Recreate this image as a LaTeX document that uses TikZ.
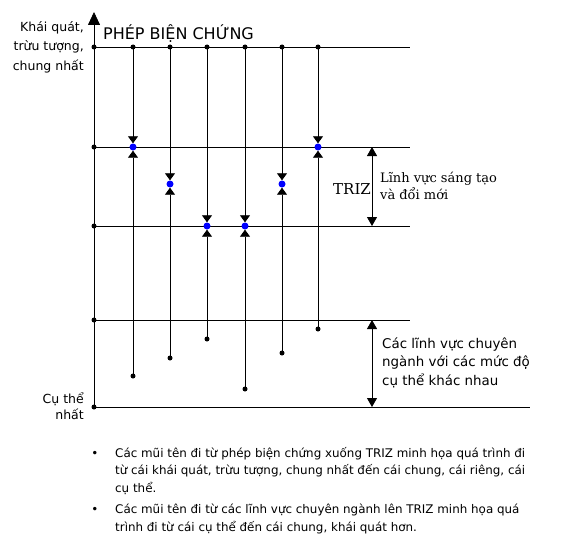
\documentclass[tikz,border=0pt]{standalone}
\usepackage{fontspec}
\setmainfont{DejaVu Sans}
\newfontfamily\serifv{DejaVu Serif}
\usetikzlibrary{arrows.meta}
\begin{document}
\begin{tikzpicture}[x=1pt,y=-1pt,
  dot/.style={circle,fill=black,inner sep=0pt,minimum size=5pt},
  bdot/.style={circle,fill=blue,inner sep=0pt,minimum size=7pt},
  ln/.style={line width=0.8pt},
  vec/.style={line width=0.8pt,-{Triangle[width=10pt,length=7pt]}},
  dim/.style={line width=0.8pt,{Triangle[width=10pt,length=9pt]}-{Triangle[width=10pt,length=9pt]}},
  lbl/.style={inner sep=0pt,font=\fontsize{12.5}{19}\selectfont},
  note/.style={inner sep=0pt,align=left,font=\fontsize{11.9}{17.5}\selectfont},
]
\useasboundingbox (0,0) rectangle (569,551);
% axis dots
\node[dot] (a1) at (94,47) {};
\node[dot] (a2) at (94,147) {};
\node[dot] (a3) at (94,226) {};
\node[dot] (a4) at (94,320) {};
\node[dot] (a5) at (94,407) {};
\coordinate (top) at (94,12);
\coordinate (e1) at (410,47);
\coordinate (e2) at (410,147);
\coordinate (e3) at (410,226);
\coordinate (e4) at (410,320);
\coordinate (e5) at (530,407);
\draw[line width=0.8pt,-{Triangle[width=12pt,length=13pt]}] (a5.center) -- (top);
\foreach \i in {1,...,5} \draw[ln] (a\i.center) -- (e\i);
% vertical arrows
\foreach \i/\x/\m/\d in {1/133/147/376,2/170/184/358,3/207/226/339,4/245/226/389,5/282/184/353,6/318/147/329}{
  \node[dot] (t\i) at (\x,47) {};
  \node[bdot] (m\i) at (\x,\m) {};
  \node[dot] (d\i) at (\x,\d) {};
}
\foreach \i in {1,...,6}{
  \draw[vec] (t\i.center) -- (m\i);
  \draw[vec] (d\i.center) -- (m\i);
}
% dimension arrows
\coordinate (p1) at (372,147);
\coordinate (p2) at (372,226);
\coordinate (p3) at (372,320);
\coordinate (p4) at (372,407);
\draw[dim] (p1) -- (p2);
\draw[dim] (p3) -- (p4);
% texts
\node[anchor=base west,inner sep=0pt,font=\fontsize{16}{18}\selectfont] (title) at (103,40) {PHÉP BIỆN CHỨNG};
\node[lbl,anchor=base east,align=right] (gen) at (84,70) {Khái quát,\\trừu tượng,\\chung nhất};
\node[lbl,anchor=base east,align=right,font=\fontsize{12.5}{16}\selectfont] (conc) at (84,419) {Cụ thể\\nhất};
\node[anchor=base west,inner sep=0pt,font=\serifv\fontsize{15}{18}\selectfont] (triz) at (333,194) {TRIZ};
\node[anchor=base west,inner sep=0pt,align=left,font=\serifv\fontsize{13}{17}\selectfont] (inno) at (380,199) {Lĩnh vực sáng tạo\\và đổi mới};
\node[anchor=base west,inner sep=0pt,align=left,font=\fontsize{13.4}{18.5}\selectfont] (spec) at (382,385) {Các lĩnh vực chuyên\\ngành với các mức độ\\cụ thể khác nhau};
\node[note,anchor=base] (b1) at (95,457) {•};
\node[note,anchor=base west] (n1) at (115,492) {Các mũi tên đi từ phép biện chứng xuống TRIZ minh họa quá trình đi\\từ cái khái quát, trừu tượng, chung nhất đến cái chung, cái riêng, cái\\cụ thể.};
\node[note,anchor=base] (b2) at (95,513) {•};
\node[note,anchor=base west] (n2) at (115,531) {Các mũi tên đi từ các lĩnh vực chuyên ngành lên TRIZ minh họa quá\\trình đi từ cái cụ thể đến cái chung, khái quát hơn.};
\end{tikzpicture}
\end{document}
